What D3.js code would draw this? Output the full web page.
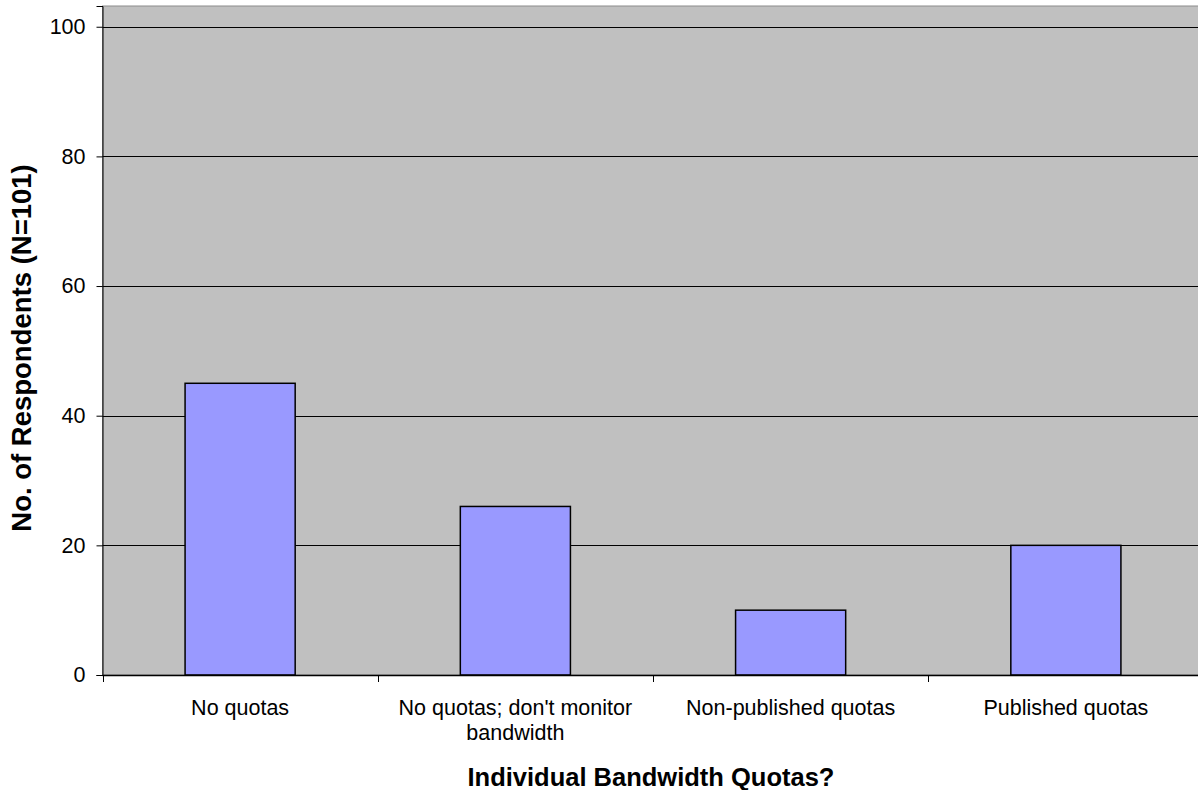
<!DOCTYPE html>
<html><head><meta charset="utf-8">
<script src="https://cdn.jsdelivr.net/npm/d3@7"></script>
<style>body{margin:0;background:#fff;} svg{display:block;font-family:"Liberation Sans",Arial,sans-serif;}</style>
</head><body>
<svg id="c" width="1198" height="790"></svg>
<script>
const categories = [["No quotas"], ["No quotas; don't monitor", "bandwidth"], ["Non-published quotas"], ["Published quotas"]];
const values = [45, 26, 10, 20];
const yTicks = [0, 20, 40, 60, 80, 100];
const yTitle = "No. of Respondents (N=101)";
const xTitle = "Individual Bandwidth Quotas?";

(function () {
const svg = d3.select("#c");
const pL = 102.5, pR = 1203.5, pT = 6, pB = 675;
const y = d3.scaleLinear().domain([0, 103.2]).range([pB, pT]);
const x = d3.scaleBand().domain(d3.range(categories.length)).range([pL, pR]).paddingInner(0.6).paddingOuter(0.3);
const xb = d3.scaleBand().domain(d3.range(categories.length)).range([pL, pR]);

svg.append("rect").attr("x", pL).attr("y", pT).attr("width", pR - pL).attr("height", pB - pT)
  .attr("fill", "#c0c0c0").attr("stroke", "#8c8c8c").attr("stroke-width", 1);

svg.append("g").selectAll("line").data(yTicks.filter(d => d > 0)).join("line")
  .attr("x1", pL).attr("x2", pR).attr("y1", d => Math.round(y(d)) + 0.5).attr("y2", d => Math.round(y(d)) + 0.5)
  .attr("stroke", "#000").attr("stroke-width", 1);

svg.append("g").selectAll("rect").data(values).join("rect")
  .attr("x", (d, i) => x(i)).attr("width", x.bandwidth())
  .attr("y", d => y(d)).attr("height", d => y(0) - y(d))
  .attr("fill", "#9999ff").attr("stroke", "#000").attr("stroke-width", 1.5);

const yAxis = d3.axisLeft(y).tickValues(yTicks).tickSize(6).tickPadding(11);
const gy = svg.append("g").attr("transform", `translate(${pL},0)`).call(yAxis);
gy.attr("font-size", null).attr("font-family", null);
gy.select(".domain").attr("stroke", "#000");
gy.selectAll("text").attr("font-size", 21.5).attr("fill", "#000").attr("font-family", "Liberation Sans, Arial, sans-serif");

svg.append("line").attr("x1", pL).attr("x2", pR).attr("y1", pB + 0.5).attr("y2", pB + 0.5).attr("stroke", "#000").attr("stroke-width", 1.5);
svg.append("g").selectAll("line").data(d3.range(categories.length + 1)).join("line")
  .attr("x1", i => Math.round(pL + i * xb.step()) + 0.5).attr("x2", i => Math.round(pL + i * xb.step()) + 0.5)
  .attr("y1", pB).attr("y2", pB + 7).attr("stroke", "#000");

const lab = svg.append("g").selectAll("text").data(categories).join("text")
  .attr("x", (d, i) => xb(i) + xb.bandwidth() / 2).attr("y", 707)
  .attr("text-anchor", "middle").attr("font-size", 21.5).attr("fill", "#000");
lab.selectAll("tspan").data(d => d).join("tspan")
  .attr("x", function () { return this.parentNode.getAttribute("x"); })
  .attr("dy", (d, i) => i === 0 ? "0.35em" : 25).text(d => d);

svg.append("text").attr("x", 651).attr("y", 786).attr("text-anchor", "middle")
  .attr("font-size", 25.5).attr("font-weight", "bold").text(xTitle);
svg.append("text").attr("transform", "translate(31,348) rotate(-90)").attr("text-anchor", "middle")
  .attr("font-size", 27.5).attr("font-weight", "bold").text(yTitle);
})();
</script>
</body></html>
